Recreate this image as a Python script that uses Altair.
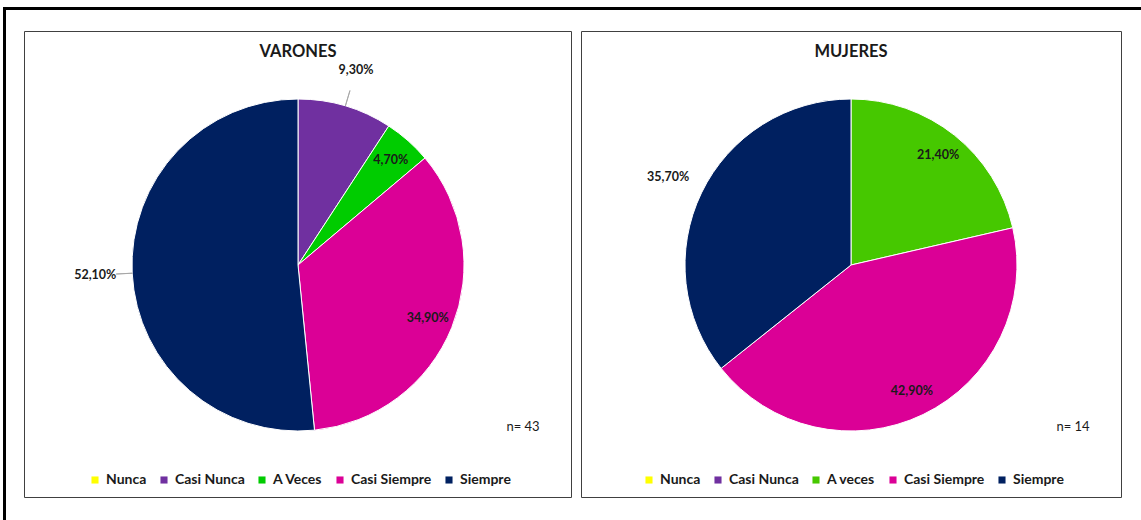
import altair as alt
import pandas as pd

FONT = "Lato"

categories_v = ["Nunca", "Casi Nunca", "A Veces", "Casi Siempre", "Siempre"]
categories_m = ["Nunca", "Casi Nunca", "A veces", "Casi Siempre", "Siempre"]
varones = [0, 9.3, 4.7, 34.9, 52.1]
mujeres = [0, 0, 21.4, 42.9, 35.7]
outside_v = [False, True, False, False, True]
outside_m = [False, False, False, False, True]
leader_v = [False, True, False, False, True]
leader_m = [False, False, False, False, False]
colors_v = ["#FFFF00", "#7030A0", "#00CC00", "#DB0096", "#002060"]
colors_m = ["#FFFF00", "#7030A0", "#46C800", "#DB0096", "#002060"]
titles = ["VARONES", "MUJERES"]
n_labels = ["n= 43", "n= 14"]

CY = 265
R = 166
TXT = "#1a1a1a"


def pie(cats, vals, outside, leader, colors, cx, legend_x):
    df = pd.DataFrame({"cat": cats, "val": vals, "ord": list(range(len(cats))),
                       "outside": outside, "leader": leader})
    arc = alt.Chart(df).mark_arc(radius=R, stroke="white", strokeWidth=1).encode(
        theta=alt.Theta("val:Q", stack=True),
        order=alt.Order("ord:Q"),
        x=alt.value(cx),
        y=alt.value(CY),
        color=alt.Color(
            "cat:N",
            scale=alt.Scale(domain=cats, range=colors),
            legend=alt.Legend(
                orient="none", legendX=legend_x, legendY=473, direction="horizontal",
                title=None, symbolType="square", symbolSize=50, symbolStrokeWidth=0,
                labelFont=FONT, labelFontSize=14, labelFontWeight="bold",
                labelColor=TXT, columnPadding=10, labelOffset=4,
            ),
        ),
    )
    ang = alt.Chart(df).transform_window(
        cum="sum(val)", sort=[alt.SortField("ord")], frame=[None, 0]
    ).transform_joinaggregate(total="sum(val)").transform_calculate(
        mid="2 * PI * (datum.cum - datum.val / 2) / datum.total",
        label="datum.val > 0 ? replace(format(datum.val, '.2f'), '.', ',') + '%' : ''",
        r="datum.outside ? 203 : 140",
    )
    text = ang.mark_text(font=FONT, fontSize=12.5, fontWeight="bold", color=TXT).encode(
        x=alt.value(cx),
        y=alt.value(CY),
        theta=alt.Theta("mid:Q", scale=None),
        radius=alt.Radius("r:Q", scale=None),
        text="label:N",
    )
    lead = ang.transform_filter("datum.leader").transform_calculate(
        mid2="datum.mid + 0.0005"
    ).mark_arc(fill="#A6A6A6", stroke="#A6A6A6", strokeWidth=0.9).encode(
        x=alt.value(cx),
        y=alt.value(CY),
        theta=alt.Theta("mid:Q", scale=None),
        theta2="mid2:Q",
        radius=alt.value(R),
        radius2=alt.value(R + 16),
    )
    return alt.layer(arc, lead, text)


one = pd.DataFrame({"a": [0]})

outer = alt.Chart(one).mark_rect(fill="white", stroke="black", strokeWidth=3).encode(
    x=alt.value(4.5), x2=alt.value(1180), y=alt.value(8.5), y2=alt.value(560)
)
box_l = alt.Chart(one).mark_rect(fill="white", stroke="#404040", strokeWidth=1).encode(
    x=alt.value(24.5), x2=alt.value(571.5), y=alt.value(31.5), y2=alt.value(497.5)
)
box_r = alt.Chart(one).mark_rect(fill="white", stroke="#404040", strokeWidth=1).encode(
    x=alt.value(581.5), x2=alt.value(1121.5), y=alt.value(31.5), y2=alt.value(497.5)
)


def label(txt, x, y, size, weight, align="center"):
    return alt.Chart(pd.DataFrame({"t": [txt]})).mark_text(
        font=FONT, fontSize=size, fontWeight=weight, color=TXT, align=align
    ).encode(x=alt.value(x), y=alt.value(y), text="t:N")


chart = alt.layer(
    outer, box_l, box_r,
    pie(categories_v, varones, outside_v, leader_v, colors_v, 298, 88),
    pie(categories_m, mujeres, outside_m, leader_m, colors_m, 851, 642),
    label(titles[0], 298, 52, 16.5, "bold"),
    label(titles[1], 851, 52, 16.5, "bold"),
    label(n_labels[0], 523, 427, 13, "normal"),
    label(n_labels[1], 1073, 427, 13, "normal"),
).resolve_scale(color="independent", theta="independent").properties(
    width=1141, height=520, autosize=alt.AutoSizeParams(type="none"), padding=0
).configure_view(stroke=None)

chart.save("out.html", embed_options={"renderer": "svg", "actions": False})
